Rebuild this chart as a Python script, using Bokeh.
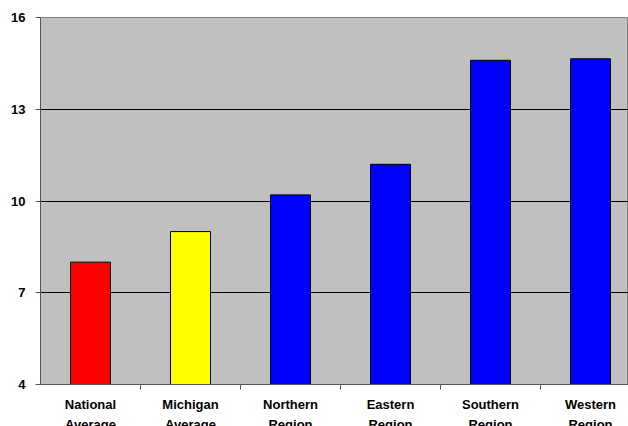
from bokeh.plotting import figure
from bokeh.models import ColumnDataSource, FixedTicker, Range1d
from bokeh.embed import file_html
from bokeh.resources import INLINE

categories = ["National\nAverage", "Michigan\nAverage", "Northern\nRegion",
              "Eastern\nRegion", "Southern\nRegion", "Western\nRegion"]
values = [8.0, 9.0, 10.2, 11.2, 14.6, 14.65]
colors = ["#FF0000", "#FFFF00", "#0000FF", "#0000FF", "#0000FF", "#0000FF"]
y_ticks = [4, 7, 10, 13, 16]

xs = [i + 0.5 for i in range(len(categories))]
src = ColumnDataSource(dict(x=xs, top=values, color=colors))

p = figure(frame_width=588, frame_height=367, width=628, height=426,
           output_backend="svg", toolbar_location=None,
           x_range=Range1d(0, 5.88), y_range=Range1d(4, 16),
           min_border_left=40, min_border_right=0, min_border_top=17,
           min_border_bottom=42)
p.background_fill_color = "#C0C0C0"
p.border_fill_color = "white"
p.outline_line_color = "#808080"
p.outline_line_width = 1

p.vbar(x="x", top="top", bottom=4, width=0.4, fill_color="color",
       line_color="black", line_width=1, source=src)

# y axis
p.yaxis.ticker = FixedTicker(ticks=y_ticks)
p.yaxis.axis_line_color = "#555555"
p.yaxis.major_tick_line_color = "#555555"
p.yaxis.major_tick_out = 5
p.yaxis.major_tick_in = 0
p.yaxis.minor_tick_line_color = None
p.yaxis.major_label_standoff = 10
p.yaxis.major_label_text_font = "Liberation Sans"
p.yaxis.major_label_text_font_style = "bold"
p.yaxis.major_label_text_font_size = "13px"
p.yaxis.major_label_text_color = "black"

# x axis
p.xaxis.ticker = FixedTicker(ticks=xs, minor_ticks=[1, 2, 3, 4, 5])
p.xaxis.major_label_overrides = {x: c for x, c in zip(xs, categories)}
p.xaxis.axis_line_color = "#555555"
p.xaxis.major_tick_line_color = None
p.xaxis.major_tick_out = 0
p.xaxis.major_tick_in = 0
p.xaxis.minor_tick_line_color = "#555555"
p.xaxis.minor_tick_out = 5
p.xaxis.minor_tick_in = 0
p.xaxis.major_label_standoff = 7
p.xaxis.major_label_text_font = "Liberation Sans"
p.xaxis.major_label_text_font_style = "bold"
p.xaxis.major_label_text_font_size = "13px"
p.xaxis.major_label_text_color = "black"
p.xaxis.major_label_text_line_height = 1.35

p.xgrid.grid_line_color = None
p.ygrid.ticker = FixedTicker(ticks=[7, 10, 13])
p.ygrid.grid_line_color = "black"
p.ygrid.grid_line_width = 1

open("out.html", "w").write(file_html(p, INLINE))
